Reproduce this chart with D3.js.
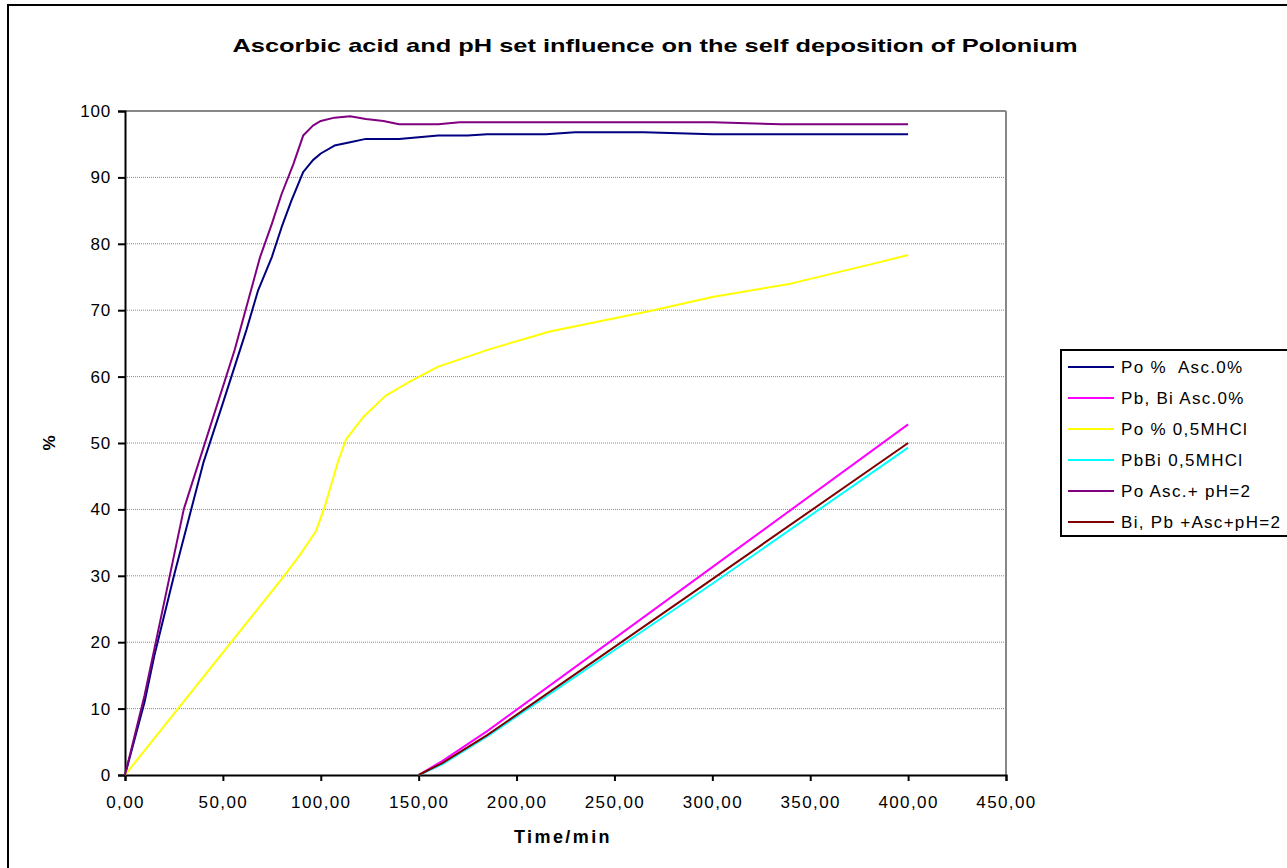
<!DOCTYPE html>
<html>
<head>
<meta charset="utf-8">
<script src="https://cdn.jsdelivr.net/npm/d3@7"></script>
<style>
  body { margin: 0; background: #fff; }
  svg { display: block; font-family: "Liberation Sans", Arial, sans-serif; }
  text { white-space: pre; }
</style>
</head>
<body>
<script>
// series [time, %]
const poAsc0 = [[0,0],[10,11],[15,18],[25,30],[40,47],[50,56],[62,67],[68,73],[75,78],[80,82.5],[85,86.5],[91,90.8],[96,92.6],[100,93.6],[107,94.8],[115,95.3],[123,95.8],[140,95.8],[160,96.3],[175,96.3],[185,96.5],[215,96.5],[230,96.8],[265,96.8],[300,96.5],[400,96.5]];
const pbBiAsc0 = [[150,0],[162,2.1],[185,6.6],[300,31.3],[400,52.8]];
const poHCl = [[0,0],[80,29.5],[89,33],[97.5,36.7],[102,40.4],[106,44.4],[109,47.4],[113,50.6],[122,54],[133,57.1],[144,59],[160,61.5],[186,64.1],[217,66.8],[270,70],[300,72],[340,74],[385,77.2],[400,78.3]];
const pbBiHCl = [[150,0],[162,1.6],[185,5.8],[300,28.8],[400,49.3]];
const poAscPh2 = [[0,0],[10,12],[15,19],[30,40],[56,64],[69,78],[75,83],[80,87.5],[86,92],[91,96.3],[96,97.8],[100,98.5],[107,99],[115,99.2],[123,98.8],[132,98.5],[140,98],[160,98],[171,98.3],[300,98.3],[335,98],[400,98]];
const biPbAscPh2 = [[150,0],[162,1.8],[185,6],[300,29.5],[400,50]];

const seriesNames = ["Po %  Asc.0%", "Pb, Bi Asc.0%", "Po % 0,5MHCl", "PbBi 0,5MHCl", "Po Asc.+ pH=2", "Bi, Pb +Asc+pH=2"];
const seriesColors = ["#000080", "#ff00ff", "#ffff00", "#00ffff", "#800080", "#800000"];
const seriesData = [poAsc0, pbBiAsc0, poHCl, pbBiHCl, poAscPh2, biPbAscPh2];

const xTicks = [0,50,100,150,200,250,300,350,400,450];
const yTicks = [0,10,20,30,40,50,60,70,80,90,100];

const W = 1287, H = 868;
const plot = {left: 125, right: 1006, top: 111, bottom: 775};

const svg = d3.select("body").append("svg")
  .attr("width", W).attr("height", H);

// outer chart border
svg.append("rect")
  .attr("x", 8).attr("y", 5).attr("width", W + 20).attr("height", H + 20)
  .attr("fill", "#fff").attr("stroke", "#000").attr("stroke-width", 2);

const x = d3.scaleLinear().domain([0, 450]).range([plot.left, plot.right]);
const y = d3.scaleLinear().domain([0, 100]).range([plot.bottom, plot.top]);

// gridlines
svg.append("g")
  .selectAll("line")
  .data(yTicks.filter(d => d > 0))
  .join("line")
    .attr("x1", plot.left).attr("x2", plot.right)
    .attr("y1", d => y(d)).attr("y2", d => y(d))
    .attr("stroke", "#888")
    .attr("stroke-width", d => d === 100 ? 2 : 1)
    .attr("stroke-dasharray", d => d === 100 ? null : "1,1");

// right border of plot area
svg.append("line")
  .attr("x1", plot.right).attr("x2", plot.right)
  .attr("y1", plot.top).attr("y2", plot.bottom)
  .attr("stroke", "#888").attr("stroke-width", 2);

//axes
const fmt = d => d3.format(".2f")(d).replace(".", ",");
const xAxis = d3.axisBottom(x).tickValues(xTicks).tickFormat(fmt).tickSize(6).tickPadding(15);
const yAxis = d3.axisLeft(y).tickValues(yTicks).tickFormat(d3.format("d")).tickSize(7).tickPadding(7);

svg.append("g")
  .attr("transform", `translate(0,${plot.bottom})`)
  .call(xAxis)
  .call(g => g.selectAll("text").attr("font-size", 17).attr("letter-spacing", 1.4).attr("fill", "#000"))
  .call(g => g.selectAll("line, path").attr("stroke", "#000").attr("stroke-width", 2));

svg.append("g")
  .attr("transform", `translate(${plot.left},0)`)
  .call(yAxis)
  .call(g => g.selectAll("text").attr("font-size", 17).attr("letter-spacing", 0.8).attr("fill", "#000"))
  .call(g => g.selectAll("line, path").attr("stroke", "#000").attr("stroke-width", 2));

// lines
const line = d3.line().x(d => x(d[0])).y(d => y(d[1]));
svg.append("g")
  .selectAll("path")
  .data(seriesData)
  .join("path")
    .attr("fill", "none")
    .attr("stroke", (d, i) => seriesColors[i])
    .attr("stroke-width", 2)
    .attr("stroke-linejoin", "round")
    .attr("d", line);

// titles
svg.append("text")
  .attr("x", 655).attr("y", 52)
  .attr("text-anchor", "middle")
  .attr("font-size", 19).attr("font-weight", "bold")
  .attr("textLength", 845).attr("lengthAdjust", "spacingAndGlyphs")
  .text("Ascorbic acid and pH set influence on the self deposition of Polonium");

svg.append("text")
  .attr("x", 563).attr("y", 843)
  .attr("text-anchor", "middle")
  .attr("font-size", 18).attr("font-weight", "bold").attr("letter-spacing", 2.4)
  .text("Time/min");

svg.append("text")
  .attr("transform", "translate(55,443) rotate(-90)")
  .attr("text-anchor", "middle")
  .attr("font-size", 17).attr("font-weight", "bold")
  .text("%");

// legend
const legend = svg.append("g");
legend.append("rect")
  .attr("x", 1061).attr("y", 350).attr("width", 260).attr("height", 186)
  .attr("fill", "#fff").attr("stroke", "#000").attr("stroke-width", 2);

const item = legend.selectAll("g.item")
  .data(seriesNames)
  .join("g")
    .attr("class", "item")
    .attr("transform", (d, i) => `translate(0,${367 + i * 31})`);
item.append("line")
  .attr("x1", 1068).attr("x2", 1114)
  .attr("stroke", (d, i) => seriesColors[i]).attr("stroke-width", 2);
item.append("text")
  .attr("x", 1121).attr("dy", "0.36em")
  .attr("font-size", 17).attr("letter-spacing", 1.3)
  .text(d => d);
</script>
</body>
</html>
